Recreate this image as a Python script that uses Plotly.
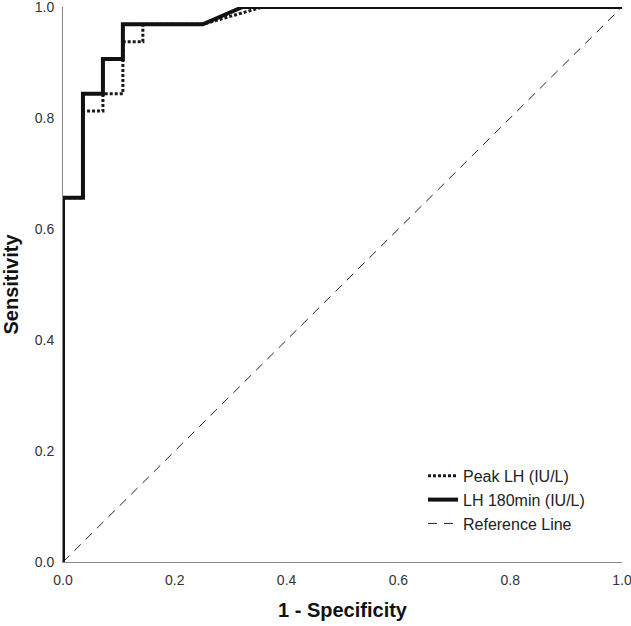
import plotly.graph_objects as go

# ROC data (1 - specificity, sensitivity)
peak_fpr = [0, 0, 1/28, 1/28, 2/28, 2/28, 3/28, 3/28, 4/28, 4/28, 7/28, 10/28, 1]
peak_tpr = [0, 21/32, 21/32, 26/32, 26/32, 27/32, 27/32, 30/32, 30/32, 31/32, 31/32, 1, 1]

lh180_fpr = [0, 0, 1/28, 1/28, 2/28, 2/28, 3/28, 3/28, 7/28, 9/28, 1]
lh180_tpr = [0, 21/32, 21/32, 27/32, 27/32, 29/32, 29/32, 31/32, 31/32, 1, 1]

ref_x = [0, 1]
ref_y = [0, 1]

tick_vals = [0, 0.2, 0.4, 0.6, 0.8, 1.0]
tick_text = ["0.0", "0.2", "0.4", "0.6", "0.8", "1.0"]

fig = go.Figure()
fig.add_trace(go.Scatter(x=peak_fpr, y=peak_tpr, mode="lines", name="Peak LH (IU/L)",
                         line=dict(color="#1a1a1a", width=3, dash="3px,2px")))
fig.add_trace(go.Scatter(x=lh180_fpr, y=lh180_tpr, mode="lines", name="LH 180min (IU/L)",
                         line=dict(color="#111111", width=4)))
fig.add_trace(go.Scatter(x=ref_x, y=ref_y, mode="lines", name="Reference Line",
                         line=dict(color="#222222", width=1, dash="9px,7px")))

font_family = "Liberation Sans, Arial, Helvetica, sans-serif"
fig.update_layout(
    width=631, height=626,
    margin=dict(l=63, r=9, t=7, b=64),
    plot_bgcolor="white", paper_bgcolor="white",
    font=dict(family=font_family, size=14, color="#333333"),
    showlegend=True,
    legend=dict(x=0.644, y=0.038, xanchor="left", yanchor="bottom",
                bgcolor="rgba(0,0,0,0)", font=dict(size=16, color="#222222"),
                tracegroupgap=0, itemwidth=30),
    xaxis=dict(range=[0, 1], tickvals=tick_vals, ticktext=tick_text,
               showgrid=False, zeroline=False, showline=True, linecolor="#888888",
               linewidth=1, ticks="", tickfont=dict(size=14, color="#333333"),
               automargin=False, ticklabeloverflow="allow", ticklabelstandoff=5,
               title=dict(text="<b>1 - Specificity</b>", font=dict(size=20, color="#111111"),
                          standoff=16)),
    yaxis=dict(range=[0, 1], tickvals=tick_vals, ticktext=tick_text,
               showgrid=False, zeroline=False, showline=True, linecolor="#888888",
               linewidth=1, ticks="", tickfont=dict(size=14, color="#333333"),
               automargin=False, ticklabeloverflow="allow", ticklabelstandoff=5,
               title=dict(text="<b>Sensitivity</b>", font=dict(size=20, color="#111111"),
                          standoff=18)),
)

fig.write_html("out.html", config={"displayModeBar": False},
               post_script="document.body.style.margin='0';document.body.style.padding='0';")
